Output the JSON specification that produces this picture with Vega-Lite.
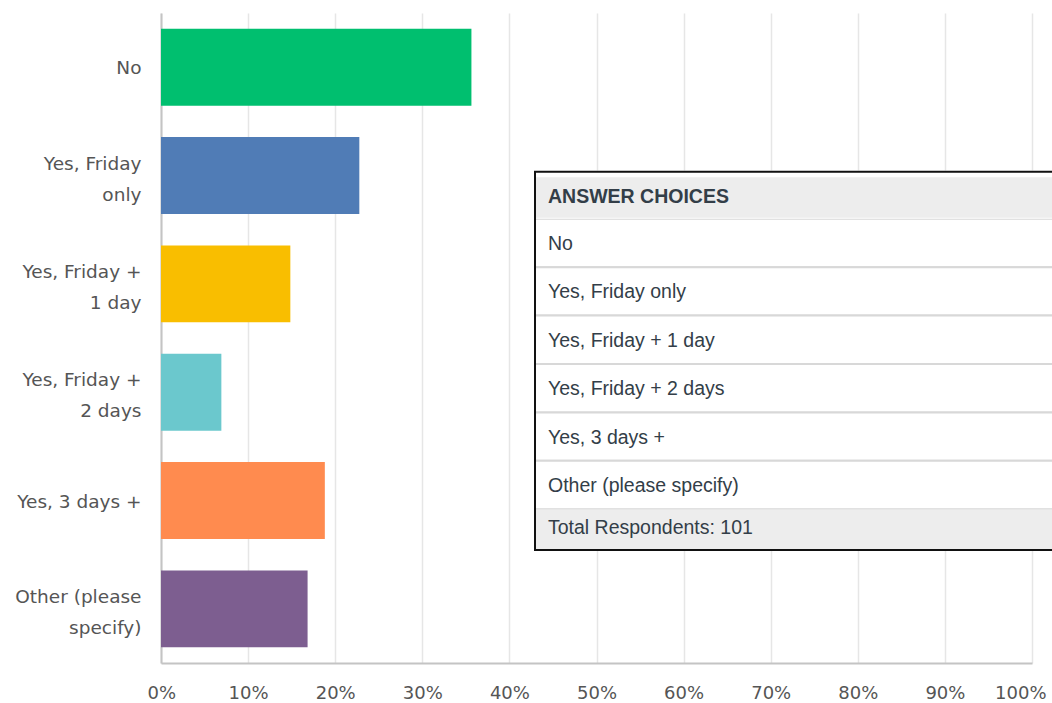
{
  "$schema": "https://vega.github.io/schema/vega-lite/v6.json",
  "width": 871,
  "height": 650,
  "autosize": {"type": "none"},
  "padding": {"left": 161, "top": 13, "right": 20, "bottom": 40},
  "background": "white",
  "config": {
    "view": {"stroke": null},
    "font": "DejaVu Sans"
  },
  "datasets": {
    "responses": [
      {"answer": "No", "pct": 0.3564},
      {"answer": "Yes, Friday only", "pct": 0.2277},
      {"answer": "Yes, Friday + 1 day", "pct": 0.1485},
      {"answer": "Yes, Friday + 2 days", "pct": 0.0693},
      {"answer": "Yes, 3 days +", "pct": 0.1881},
      {"answer": "Other (please specify)", "pct": 0.1683}
    ],
    "table": [
      {"row": "ANSWER CHOICES", "kind": "header"},
      {"row": "No", "kind": "body"},
      {"row": "Yes, Friday only", "kind": "body"},
      {"row": "Yes, Friday + 1 day", "kind": "body"},
      {"row": "Yes, Friday + 2 days", "kind": "body"},
      {"row": "Yes, 3 days +", "kind": "body"},
      {"row": "Other (please specify)", "kind": "body"},
      {"row": "Total Respondents: 101", "kind": "total"}
    ]
  },
  "layer": [
    {
      "data": {"name": "responses"},
      "mark": {"type": "bar"},
      "encoding": {
        "y": {
          "field": "answer",
          "type": "nominal",
          "sort": null,
          "scale": {"paddingInner": 0.29, "paddingOuter": 0.145},
          "axis": {
            "title": null,
            "ticks": false,
            "domain": true,
            "domainColor": "#c4c4c4",
            "domainWidth": 2,
            "labelPadding": 20,
            "labelFont": "DejaVu Sans",
            "labelFontSize": 18.5,
            "labelColor": "#555555",
            "labelLineHeight": 31,
            "labelLimit": 200,
            "labelOffset": {"condition": {"test": "datum.value == 'No' || datum.value == 'Yes, 3 days +'", "value": 1}, "value": -12},
            "labelExpr": "datum.value == 'No' ? 'No ' : datum.value == 'Yes, Friday only' ? ['Yes, Friday','only'] : datum.value == 'Yes, Friday + 1 day' ? ['Yes, Friday +','1 day'] : datum.value == 'Yes, Friday + 2 days' ? ['Yes, Friday +','2 days'] : datum.value == 'Other (please specify)' ? ['Other (please','specify)'] : datum.value"
          }
        },
        "x": {
          "field": "pct",
          "type": "quantitative",
          "scale": {"domain": [0, 1], "nice": false},
          "axis": {
            "title": null,
            "format": ".0%",
            "values": [0, 0.1, 0.2, 0.3, 0.4, 0.5, 0.6, 0.7, 0.8, 0.9, 1],
            "ticks": false,
            "grid": true,
            "gridColor": "#e6e6e6",
            "gridWidth": 1.5,
            "domain": true,
            "domainColor": "#c4c4c4",
            "domainWidth": 2,
            "labelPadding": 21,
            "labelFont": "DejaVu Sans",
            "labelFontSize": 18,
            "labelColor": "#555555",
            "labelFlush": true,
            "labelFlushOffset": 14
          }
        },
        "color": {
          "field": "answer",
          "type": "nominal",
          "legend": null,
          "scale": {
            "domain": ["No", "Yes, Friday only", "Yes, Friday + 1 day", "Yes, Friday + 2 days", "Yes, 3 days +", "Other (please specify)"],
            "range": ["#00bf6f", "#507cb6", "#f9be00", "#6bc8cd", "#ff8b4f", "#7d5e90"]
          }
        }
      }
    },
    {
      "data": {"name": "table"},
      "layer": [
        {
          "transform": [{"filter": "datum.kind == 'body'"}],
          "mark": {"type": "rect", "fill": "#ffffff", "stroke": "#d8d8d8", "strokeWidth": 2},
          "encoding": {
            "x": {"datum": 0.4294, "type": "quantitative"},
            "x2": {"datum": 1.1},
            "y": {
              "field": "row",
              "type": "nominal",
              "sort": null,
              "scale": {
                "type": "band",
                "domain": ["ANSWER CHOICES", "No", "Yes, Friday only", "Yes, Friday + 1 day", "Yes, Friday + 2 days", "Yes, 3 days +", "Other (please specify)", "Total Respondents: 101"],
                "range": [157.4, 544.6],
                "paddingInner": 0,
                "paddingOuter": 0
              },
              "axis": null
            }
          }
        },
        {
          "data": {"values": [{}]},
          "mark": {"type": "rect", "fill": "#ffffff"},
          "encoding": {
            "x": {"datum": 0.4294, "type": "quantitative"},
            "x2": {"datum": 1.1},
            "y": {"datum": "ANSWER CHOICES", "type": "nominal", "bandPosition": 0},
            "y2": {"datum": "ANSWER CHOICES", "bandPosition": 1}
          }
        },
        {
          "data": {"values": [{}]},
          "mark": {"type": "rect", "fill": "#ededed"},
          "encoding": {
            "x": {"datum": 0.4294, "type": "quantitative"},
            "x2": {"datum": 1.1},
            "y": {"datum": "ANSWER CHOICES", "type": "nominal", "bandPosition": 0.14},
            "y2": {"datum": "ANSWER CHOICES", "bandPosition": 0.98}
          }
        },
        {
          "data": {"values": [{}]},
          "mark": {"type": "rect", "fill": "#ededed"},
          "encoding": {
            "x": {"datum": 0.4294, "type": "quantitative"},
            "x2": {"datum": 1.1},
            "y": {"datum": "Total Respondents: 101", "type": "nominal", "bandPosition": 0},
            "y2": {"datum": "Total Respondents: 101", "bandPosition": 0.843}
          }
        },
        {
          "data": {"values": [{}]},
          "mark": {"type": "rect", "fill": null, "fillOpacity": 0, "stroke": "#111111", "strokeWidth": 2},
          "encoding": {
            "x": {"datum": 0.4294, "type": "quantitative"},
            "x2": {"datum": 1.1},
            "y": {"datum": "ANSWER CHOICES", "type": "nominal", "bandPosition": 0.03},
            "y2": {"datum": "Total Respondents: 101", "bandPosition": 0.843}
          }
        },
        {
          "transform": [{"filter": "datum.kind == 'header'"}],
          "mark": {"type": "text", "align": "left", "baseline": "middle", "font": "Liberation Sans", "fontSize": 19.5, "fontWeight": "bold", "color": "#333e48", "dy": 2.5},
          "encoding": {
            "x": {"datum": 0.4443, "type": "quantitative"},
            "y": {"field": "row", "type": "nominal", "sort": null},
            "text": {"field": "row"}
          }
        },
        {
          "transform": [{"filter": "datum.kind == 'body'"}],
          "mark": {"type": "text", "align": "left", "baseline": "middle", "font": "Liberation Sans", "fontSize": 19.5, "color": "#333e48", "dy": 1},
          "encoding": {
            "x": {"datum": 0.4443, "type": "quantitative"},
            "y": {"field": "row", "type": "nominal", "sort": null},
            "text": {"field": "row"}
          }
        },
        {
          "transform": [{"filter": "datum.kind == 'total'"}],
          "mark": {"type": "text", "align": "left", "baseline": "middle", "font": "Liberation Sans", "fontSize": 19.5, "color": "#333e48", "dy": -5},
          "encoding": {
            "x": {"datum": 0.4443, "type": "quantitative"},
            "y": {"field": "row", "type": "nominal", "sort": null},
            "text": {"field": "row"}
          }
        }
      ]
    }
  ],
  "resolve": {"scale": {"y": "independent"}}
}
